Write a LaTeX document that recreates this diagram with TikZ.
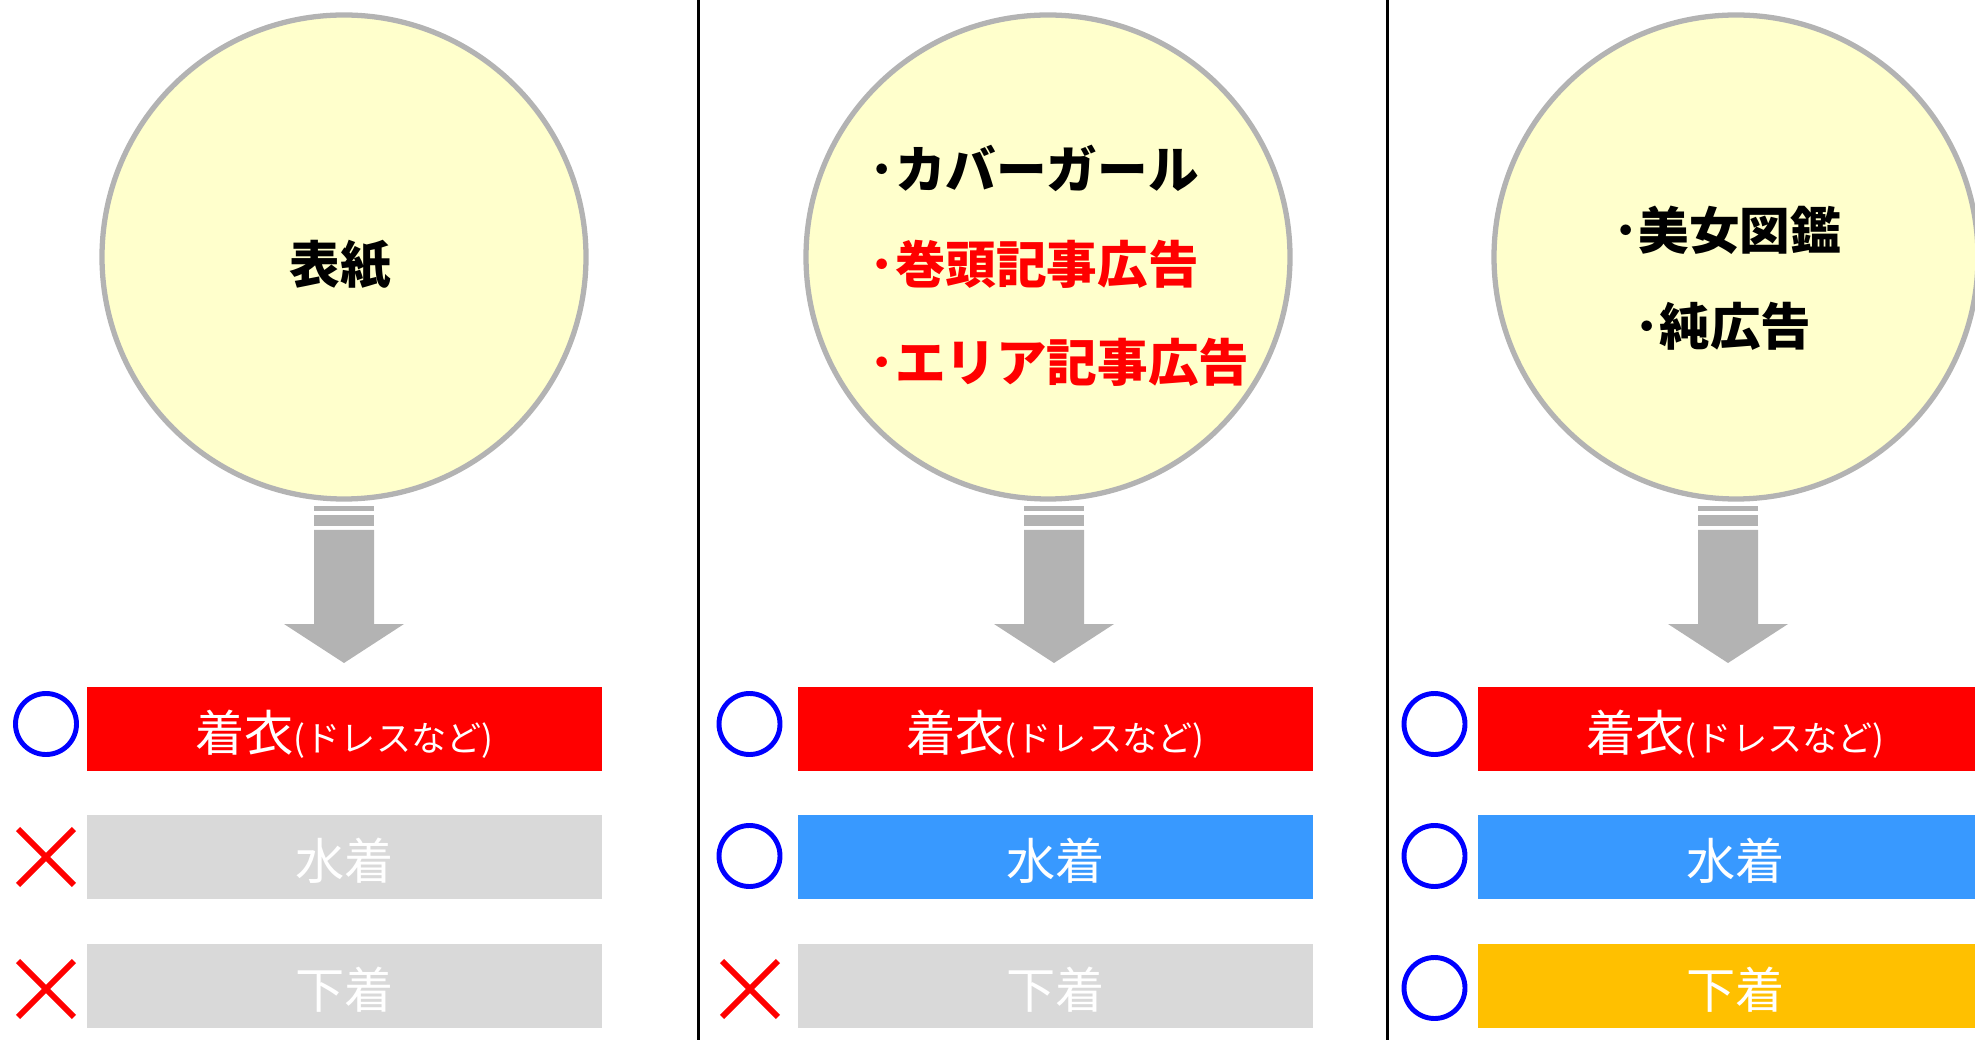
\documentclass[tikz,border=0pt]{standalone}
\usepackage{fontspec}
\newfontfamily\jp{Noto Sans CJK JP}
\usetikzlibrary{shapes.misc}

\definecolor{diskfill}{HTML}{FFFFCC}
\definecolor{diskline}{HTML}{B3B3B3}
\definecolor{arrowgray}{HTML}{B3B3B3}
\definecolor{barred}{HTML}{FF0000}
\definecolor{barblue}{HTML}{3899FF}
\definecolor{barorange}{HTML}{FFC000}
\definecolor{bargray}{HTML}{D9D9D9}
\definecolor{markblue}{HTML}{0000FF}

\newcommand{\kakko}[1]{{\fontsize{10}{10}\selectfont #1}}

\begin{document}
\begin{tikzpicture}[x=1cm, y=-1cm,
  disk/.style={circle, draw=diskline, fill=diskfill, line width=1.5pt, minimum size=4.84cm, inner sep=0},
  disktext/.style={font=\jp\bfseries\fontsize{14.4}{14.4}\selectfont, inner sep=0},
  bar/.style={minimum width=5.15cm, minimum height=0.84cm, inner sep=0, text height=12.8pt, text depth=0pt,
              text=white, font=\jp\fontsize{14}{14}\selectfont},
  okmark/.style={circle, draw=markblue, line width=1.4pt, minimum size=0.61cm, inner sep=0},
  ngmark/.style={cross out, draw=red, line width=1.7pt, minimum size=0.50cm, inner sep=0}]
\useasboundingbox (0,0) rectangle (19.75,10.40);

% separators
\draw[line width=0.85pt] (6.985,0) -- (6.985,10.40);
\draw[line width=0.85pt] (13.875,0) -- (13.875,10.40);

% circles
\foreach \n/\x in {c1/3.44, c2/10.48, c3/17.36}
  \node[disk] (\n) at (\x,2.57) {};

\node[disktext] (cover) at (3.40,2.65) {表紙};
\node[disktext, anchor=west] (girl) at (8.69,1.68) {･カバーガール};
\node[disktext, anchor=west, text=red] (front) at (8.69,2.64) {･巻頭記事広告};
\node[disktext, anchor=west, text=red] (area) at (8.69,3.62) {･エリア記事広告};
\node[disktext] (bijo) at (17.27,2.30) {･美女図鑑};
\node[disktext] (pure) at (17.23,3.26) {･純広告};

% arrows
\foreach \x in {3.44, 10.54, 17.28} {
  \fill[arrowgray] (\x-.30,5.06) rectangle (\x+.30,5.11);
  \fill[arrowgray] (\x-.30,5.15) rectangle (\x+.30,5.26);
  \fill[arrowgray] (\x-.30,5.30) -- (\x+.30,5.30) -- (\x+.30,6.24) -- (\x+.60,6.24)
                   -- (\x,6.63) -- (\x-.60,6.24) -- (\x-.30,6.24) -- cycle;
}

% bars
\foreach \i/\x/\swim/\under in {1/3.445/bargray/bargray, 2/10.555/barblue/bargray, 3/17.355/barblue/barorange} {
  \node[bar, fill=barred] (dress\i) at (\x,7.29) {着衣\kakko{(ドレスなど)}};
  \node[bar, fill=\swim] (swim\i) at (\x,8.57) {水着};
  \node[bar, fill=\under] (under\i) at (\x,9.86) {下着};
}

% marks
\node[okmark] (ok1) at (0.46,7.24) {};
\node[ngmark] (ng1) at (0.46,8.57) {};
\node[ngmark] (ng2) at (0.46,9.89) {};
\node[okmark] (ok2) at (7.495,7.24) {};
\node[okmark] (ok3) at (7.495,8.56) {};
\node[ngmark] (ng3) at (7.50,9.89) {};
\node[okmark] (ok4) at (14.345,7.24) {};
\node[okmark] (ok5) at (14.345,8.56) {};
\node[okmark] (ok6) at (14.345,9.88) {};
\end{tikzpicture}
\end{document}
